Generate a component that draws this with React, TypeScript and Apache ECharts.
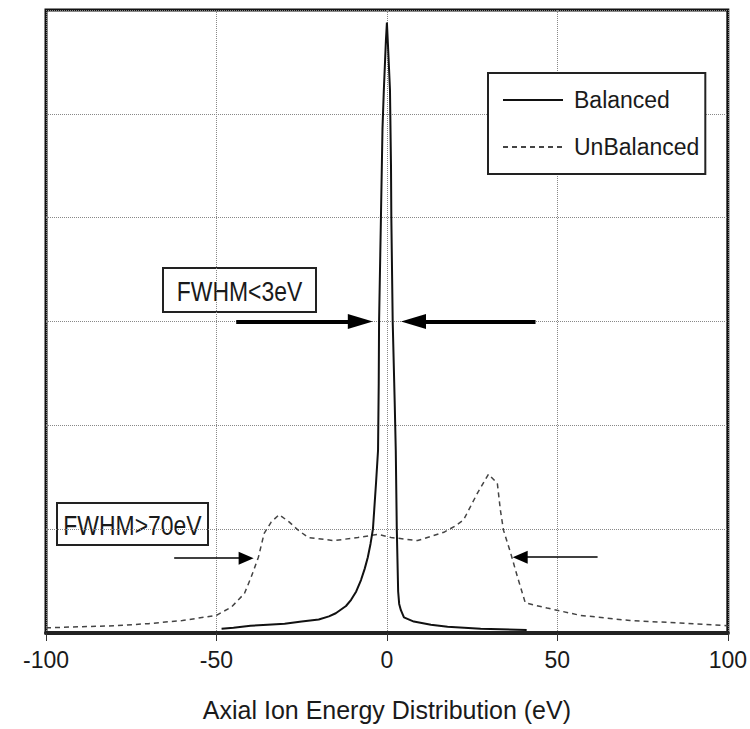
import React, { useEffect, useRef } from "react";
import * as echarts from "echarts";

const FONT = "'Liberation Sans', Arial, sans-serif";

const seriesNames = ["Balanced", "UnBalanced"];
const xTicks = [-100, -50, 0, 50, 100];

// Balanced (solid) : [energy eV, intensity]
const balanced: [number, number][] = [
  [-48.5, 0.04], [-45, 0.05], [-40, 0.07], [-35, 0.08], [-30, 0.09], [-25, 0.11],
  [-20, 0.13], [-17, 0.16], [-15, 0.19], [-12, 0.26], [-10.5, 0.32], [-9, 0.4],
  [-7.6, 0.51], [-6.5, 0.62], [-5.6, 0.73], [-4.8, 0.86], [-4.1, 1.0], [-3.2, 1.44],
  [-2.6, 1.76], [-2.4, 2.4], [-2.3, 3.0], [-1.75, 4.0], [-1.3, 4.85], [-0.9, 5.23],
  [-0.3, 5.7], [0, 5.88], [0.4, 5.6], [0.9, 5.23], [1.2, 4.5], [1.3, 4.0],
  [1.7, 3.0], [2.3, 2.2], [2.6, 1.76], [2.9, 1.0], [3.3, 0.4], [3.6, 0.28],
  [4.1, 0.22], [5, 0.15], [7.9, 0.11], [12.9, 0.08], [17.8, 0.06], [27.5, 0.04], [41, 0.03],
];

// UnBalanced (dashed)
const unbalanced: [number, number][] = [
  [-100, 0.05], [-90, 0.06], [-80, 0.07], [-70, 0.09], [-60, 0.12], [-50, 0.17],
  [-45.6, 0.25], [-41.8, 0.38], [-39.8, 0.54], [-37.7, 0.73], [-36, 0.96], [-33.9, 1.07],
  [-31.6, 1.14], [-28.7, 1.07], [-26, 0.99], [-23.1, 0.92], [-15.5, 0.89], [-8.5, 0.92],
  [-2.6, 0.95], [1.2, 0.92], [9, 0.89], [16.7, 0.97], [20, 1.03], [22.5, 1.09],
  [26.6, 1.35], [29.8, 1.53], [32.4, 1.44], [33.3, 1.18], [34.2, 0.99], [36.3, 0.77],
  [38.3, 0.54], [40.6, 0.29], [47, 0.24], [56.7, 0.17], [71.3, 0.12], [86, 0.096], [100, 0.07],
];

const annotations = ["FWHM<3eV", "FWHM>70eV"];

export default function App() {
  const ref = useRef<HTMLDivElement>(null);
  useEffect(() => {
    if (!ref.current) return;
    const chart = echarts.init(ref.current, undefined, { renderer: "svg" });
    const box = (x: number, y: number, w: number, h: number, text: string) => ({
      type: "group",
      x,
      y,
      z: 100,
      children: [
        { type: "rect", shape: { x: 0, y: 0, width: w, height: h }, style: { fill: "#fff", stroke: "#222", lineWidth: 2 } },
        {
          type: "text",
          x: w / 2,
          y: h / 2 + 1,
          scaleX: 0.85,
          style: { text, fontSize: 27, fontFamily: FONT, fill: "#1a1a1a", align: "center", verticalAlign: "middle" },
        },
      ],
    });
    chart.setOption({
      animation: false,
      backgroundColor: "#fff",
      grid: { left: 46, right: 20, top: 10, bottom: 96, show: true, borderColor: "#111", borderWidth: 3, backgroundColor: "#fff" },
      legend: {
        data: seriesNames,
        orient: "vertical",
        left: 488,
        top: 73,
        backgroundColor: "#fff",
        borderColor: "#222",
        borderWidth: 2,
        padding: [13, 6, 13, 14],
        itemWidth: 60,
        itemHeight: 14,
        itemGap: 19,
        itemStyle: { color: "transparent", borderWidth: 0 },
        textStyle: { fontSize: 23, fontFamily: FONT, color: "#1a1a1a", lineHeight: 28, padding: [0, 0, 0, 6] },
        selectedMode: false,
      },
      xAxis: {
        type: "value",
        min: -100,
        max: 100,
        interval: 50,
        name: "Axial Ion Energy Distribution (eV)",
        nameLocation: "middle",
        nameGap: 64,
        nameTextStyle: { fontSize: 25, fontFamily: FONT, color: "#1a1a1a" },
        axisLine: { show: true, lineStyle: { color: "#222", width: 4 } },
        axisTick: { show: true, length: 8, lineStyle: { color: "#333", width: 1 } },
        axisLabel: { fontSize: 23, fontFamily: FONT, color: "#1a1a1a", margin: 15, formatter: (v: number) => (xTicks.includes(v) ? String(v) : "") },
        splitLine: { show: true, lineStyle: { color: "#888", type: "dotted", width: 1 } },
      },
      yAxis: {
        type: "value",
        min: 0,
        max: 6,
        interval: 1,
        axisLine: { show: false },
        axisTick: { show: false },
        axisLabel: { show: false },
        splitLine: { show: true, lineStyle: { color: "#888", type: "dotted", width: 1 } },
      },
      series: [
        {
          name: seriesNames[0],
          type: "line",
          data: balanced,
          symbol: "none",
          z: 5,
          lineStyle: { color: "#111", width: 2 },
          itemStyle: { color: "#111" },
          markLine: {
            silent: true,
            symbol: ["none", "triangle"],
            symbolSize: [15, 25],
            label: { show: false },
            lineStyle: { color: "#000", width: 4, type: "solid" },
            data: [
              [{ coord: [-44.2, 3.0] }, { coord: [-7.8, 3.0] }],
              [{ coord: [43.6, 3.0] }, { coord: [7.8, 3.0] }],
            ],
          },
        },
        {
          name: seriesNames[1],
          type: "line",
          data: unbalanced,
          symbol: "none",
          z: 4,
          lineStyle: { color: "#444", width: 1.5, type: [5, 4] },
          itemStyle: { color: "#444" },
          markLine: {
            silent: true,
            symbol: ["none", "triangle"],
            symbolSize: [13, 15],
            label: { show: false },
            lineStyle: { color: "#000", width: 1.5, type: "solid" },
            data: [
              [{ coord: [-62.4, 0.72] }, { coord: [-41.3, 0.72] }],
              [{ coord: [61.8, 0.73] }, { coord: [39.1, 0.73] }],
            ],
          },
        },
      ],
      graphic: [box(163, 268, 153, 44, annotations[0]), box(57, 503, 151, 42, annotations[1])],
    });
    return () => chart.dispose();
  }, []);
  return <div ref={ref} style={{ position: "absolute", left: 0, top: 0, width: 750, height: 729 }} />;
}
